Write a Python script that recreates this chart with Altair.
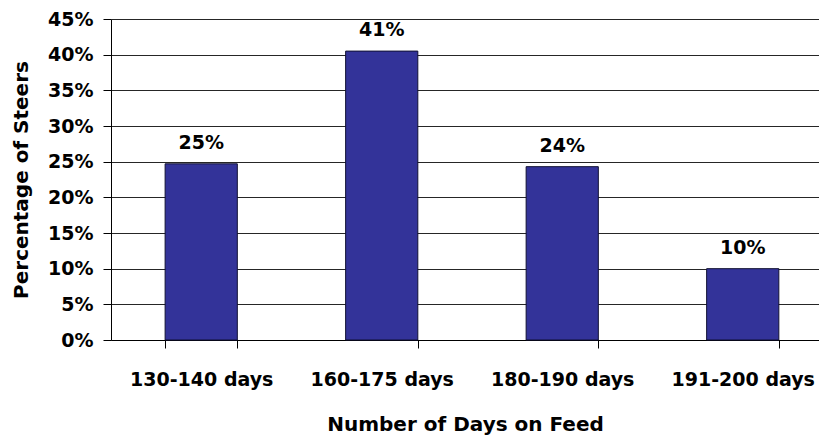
import altair as alt
import pandas as pd

categories = ["130-140 days", "160-175 days", "180-190 days", "191-200 days"]
shares = [0.247, 0.405, 0.243, 0.100]
labels = ["25%", "41%", "24%", "10%"]
y_ticks = [0.0, 0.05, 0.10, 0.15, 0.20, 0.25, 0.30, 0.35, 0.40, 0.45]

df = pd.DataFrame({"cat": categories, "share": shares, "label": labels})

FONT = "DejaVu Sans"

x = alt.X(
    "cat:N",
    sort=categories,
    scale=alt.Scale(paddingInner=0.6, paddingOuter=0.2612, align=0.574, round=False),
    axis=alt.Axis(
        title="Number of Days on Feed",
        labelAngle=0,
        tickBand="extent",
        tickSize=8,
        tickColor="#000",
        domainColor="#000",
        labelPadding=22,
        titlePadding=25,
        labelFontSize=19,
        labelFont=FONT,
        labelFontWeight="bold",
        labelColor="#000",
        titleFontSize=20,
        titleFont=FONT,
        titleFontWeight="bold",
        titleColor="#000",
    ),
)

y = alt.Y(
    "share:Q",
    scale=alt.Scale(domain=[0, 0.45], nice=False, zero=True),
    axis=alt.Axis(
        title="Percentage of Steers",
        format=".0%",
        values=y_ticks,
        tickCount=10,
        labelOverlap=False,
        tickSize=8,
        tickColor="#000",
        domainColor="#000",
        grid=True,
        gridColor="#262626",
        gridWidth=1,
        labelPadding=10,
        titlePadding=16,
        labelFontSize=19,
        labelFont=FONT,
        labelFontWeight="bold",
        labelColor="#000",
        titleFontSize=20,
        titleFont=FONT,
        titleFontWeight="bold",
        titleColor="#000",
    ),
)

base = alt.Chart(df).encode(x=x, y=y)

bars = base.mark_bar(
    color="#333399",
    stroke="#111133",
    strokeWidth=1,
)

text = base.mark_text(
    baseline="alphabetic",
    dy=-15,
    font=FONT,
    fontSize=19,
    fontWeight="bold",
    color="#000",
).encode(text="label:N")

chart = (
    alt.layer(bars, text)
    .properties(
        width=708,
        height=321,
        autosize=alt.AutoSizeParams(type="none"),
        padding={"left": 103, "top": 11, "right": 0, "bottom": 96},
        background="white",
    )
    .configure_view(stroke=None)
)

chart.save("out.html", embed_options={"renderer": "svg", "actions": False})
